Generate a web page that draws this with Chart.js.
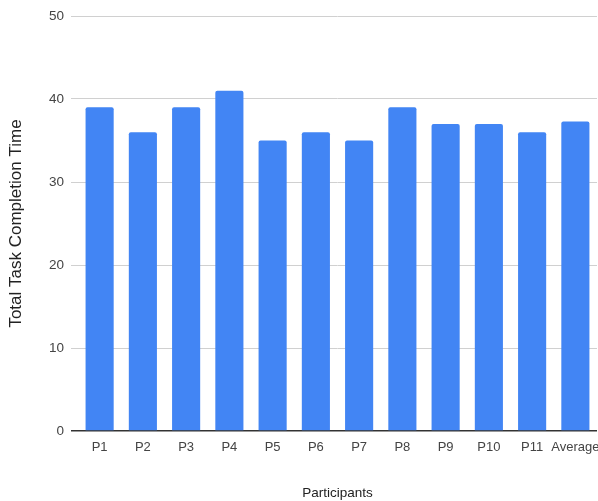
<!DOCTYPE html>
<html>
<head>
<meta charset="utf-8">
<script src="https://cdn.jsdelivr.net/npm/chart.js@4"></script>
<style>
  html, body { margin: 0; padding: 0; background: #fff; }
  #wrap { width: 598px; height: 501px; }
</style>
</head>
<body>
<div id="wrap"><canvas id="c" width="598" height="501"></canvas></div>
<script>
// Completion time per participant, plus the group average
const participants = ['P1', 'P2', 'P3', 'P4', 'P5', 'P6', 'P7', 'P8', 'P9', 'P10', 'P11', 'Average'];
const completionTimes = [39, 36, 39, 41, 35, 36, 35, 39, 37, 37, 36, 37.3];
const yTicks = [0, 10, 20, 30, 40, 50];

const FONT = "Arial, 'Liberation Sans', sans-serif";

new Chart(document.getElementById('c'), {
  type: 'bar',
  data: {
    labels: participants,
    datasets: [{
      data: completionTimes,
      backgroundColor: '#4285F4',
      borderWidth: 0,
      borderRadius: { topLeft: 2, topRight: 2, bottomLeft: 0, bottomRight: 0 },
      borderSkipped: 'bottom',
      barPercentage: 0.65,
      categoryPercentage: 1.0
    }]
  },
  options: {
    responsive: false,
    animation: false,
    layout: { autoPadding: false, padding: { top: 16, right: 1, left: 0, bottom: 0 } },
    plugins: { legend: { display: false }, tooltip: { enabled: false } },
    scales: {
      x: {
        grid: { display: false, drawTicks: false },
        border: { display: false },
        ticks: { color: '#444', font: { family: FONT, size: 13 }, padding: 9, maxRotation: 0, autoSkip: false },
        title: { display: true, text: 'Participants', color: '#222', font: { family: FONT, size: 13.5 }, padding: { top: 20, bottom: 0 } },
        afterFit: (s) => { s.height = 70; s.paddingLeft = 0; s.paddingRight = 0; }
      },
      y: {
        min: 0, max: 50,
        afterBuildTicks: (s) => { s.ticks = yTicks.map(v => ({ value: v })); },
        grid: {
          color: (ctx) => ctx.tick && ctx.tick.value === 0 ? '#333' : '#d0d0d0',
          lineWidth: (ctx) => ctx.tick && ctx.tick.value === 0 ? 1.5 : 1,
          drawTicks: true, tickLength: 7
        },
        border: { display: false },
        ticks: { color: '#444', font: { family: FONT, size: 13.5 }, padding: 7 },
        title: { display: true, text: 'Total Task Completion Time', color: '#222', font: { family: FONT, size: 17 }, padding: { top: 6, bottom: 0 } },
        afterFit: (s) => { s.width = 78; s.paddingTop = 0; s.paddingBottom = 0; }
      }
    }
  }
});
</script>
</body>
</html>
